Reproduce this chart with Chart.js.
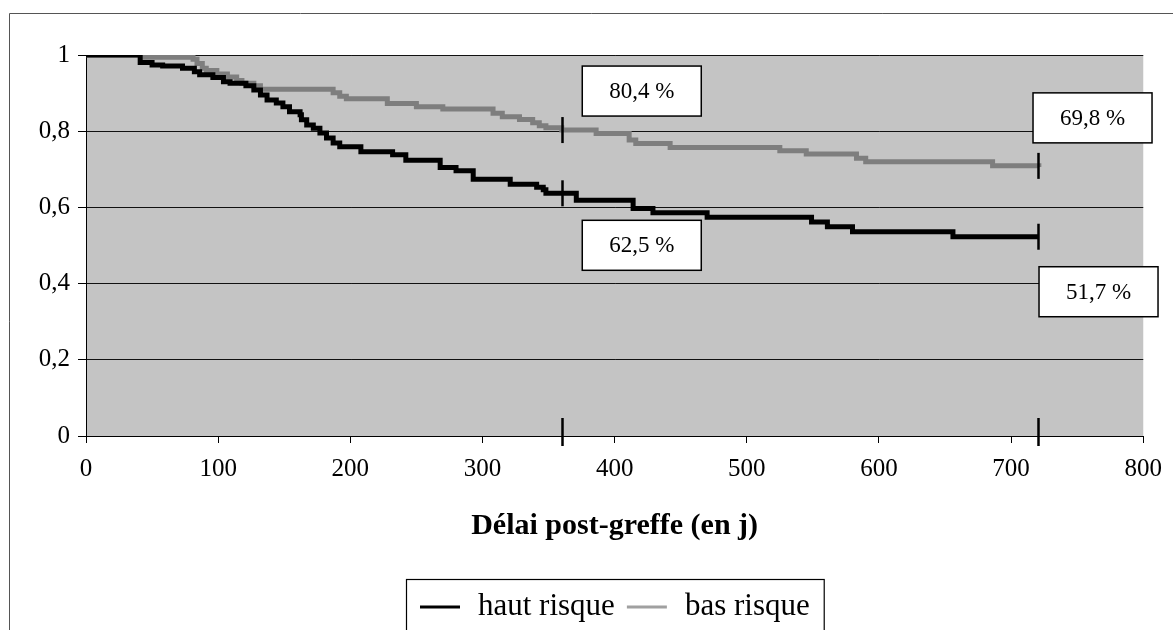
<!DOCTYPE html>
<html lang="fr">
<head>
<meta charset="utf-8">
<title>Survie post-greffe</title>
<script src="https://cdn.jsdelivr.net/npm/chart.js@4.4.1/dist/chart.umd.min.js"></script>
<style>
  html, body { margin: 0; padding: 0; background: #fff; }
  #wrap { width: 1173px; height: 630px; position: relative; }
</style>
</head>
<body>
<div id="wrap"><canvas id="chartSurvie"></canvas></div>
<script>
// Données (jours / survie)
const hautJours = [0, 41, 50, 58, 73, 82, 86, 96, 104, 109, 121, 127, 132, 137, 144, 149, 154, 162, 163, 167, 172, 177, 182, 187, 192, 208, 232, 242, 268, 280, 293, 321, 341, 346, 348, 371, 414, 429, 470, 549, 561, 580, 656, 721];
const hautSurvie = [1.0, 0.980, 0.974, 0.971, 0.965, 0.956, 0.948, 0.941, 0.930, 0.926, 0.919, 0.908, 0.895, 0.882, 0.874, 0.864, 0.851, 0.843, 0.830, 0.816, 0.808, 0.795, 0.782, 0.769, 0.759, 0.746, 0.738, 0.724, 0.705, 0.696, 0.674, 0.661, 0.653, 0.646, 0.637, 0.619, 0.597, 0.586, 0.574, 0.562, 0.549, 0.536, 0.523, 0.523];

const basJours = [0, 43, 81, 84, 88, 91, 99, 107, 114, 118, 127, 132, 187, 192, 197, 228, 250, 270, 308, 315, 328, 338, 343, 348, 360, 386, 411, 416, 442, 525, 545, 583, 590, 686, 721];
const basSurvie = [1.0, 0.994, 0.989, 0.978, 0.965, 0.959, 0.950, 0.942, 0.933, 0.926, 0.919, 0.910, 0.901, 0.892, 0.885, 0.873, 0.864, 0.858, 0.847, 0.838, 0.831, 0.822, 0.814, 0.809, 0.803, 0.794, 0.777, 0.768, 0.757, 0.749, 0.740, 0.729, 0.720, 0.709, 0.706];

const seriesNoms = ['haut risque', 'bas risque'];
const reperesJours = [360, 720];
const pctHaut = [62.5, 51.7];
const pctBas = [80.4, 69.8];

const xTicks = [0, 100, 200, 300, 400, 500, 600, 700, 800];
const yTicks = [0, 0.2, 0.4, 0.6, 0.8, 1];

(function() {
  'use strict';

  const FONT = "'Liberation Serif', 'Times New Roman', serif";
  const couleurs = ['#000000', '#7e7e7e'];
  const couleursLegende = ['#000000', '#a0a0a0'];

  // Décalage des étiquettes par rapport au repère (px)
  const etiquettes = [
    { serie: 1, repere: 0, dx: 80, dy: -39 },
    { serie: 0, repere: 0, dx: 80, dy: 52 },
    { serie: 1, repere: 1, dx: 55, dy: -48 },
    { serie: 0, repere: 1, dx: 61, dy: 55 }
  ];

  function points(jours, survie) {
    return jours.map((j, i) => ({ x: j, y: survie[i] }));
  }

  function valeurA(data, jour) {
    let v = data[0].y;
    data.forEach(p => { if (p.x <= jour) v = p.y; });
    return v;
  }

  function fmt(v) {
    return String(v).replace('.', ',');
  }

  const decor = {
    id: 'decor',
    beforeDraw(chart) {
      const { ctx, chartArea: a } = chart;
      ctx.save();
      ctx.fillStyle = '#c4c4c4';
      ctx.fillRect(a.left, a.top, a.right - a.left, a.bottom - a.top);
      ctx.restore();
    },
    afterDatasetsDraw(chart) {
      const { ctx } = chart;
      const xs = chart.scales.x, ys = chart.scales.y;
      ctx.save();
      ctx.strokeStyle = '#000';
      ctx.lineWidth = 2.5;
      // repères verticaux à 1 an et 2 ans
      reperesJours.forEach(j => {
        const px = Math.round(xs.getPixelForValue(j)) + 0.5;
        chart.data.datasets.forEach(ds => {
          const py = ys.getPixelForValue(valeurA(ds.data, j));
          ctx.beginPath();
          ctx.moveTo(px, py - 13);
          ctx.lineTo(px, py + 13);
          ctx.stroke();
        });
        const p0 = ys.getPixelForValue(0);
        ctx.beginPath();
        ctx.moveTo(px, p0 - 18);
        ctx.lineTo(px, p0 + 10);
        ctx.stroke();
      });

      // étiquettes de pourcentage
      etiquettes.forEach(e => {
        const ds = chart.data.datasets[e.serie];
        const j = reperesJours[e.repere];
        const pct = e.serie === 0 ? pctHaut[e.repere] : pctBas[e.repere];
        const cx = xs.getPixelForValue(j) + e.dx;
        const cy = ys.getPixelForValue(valeurA(ds.data, j)) + e.dy;
        const w = 119, h = 50;
        ctx.fillStyle = '#fff';
        ctx.fillRect(cx - w / 2, cy - h / 2, w, h);
        ctx.lineWidth = 1.5;
        ctx.strokeRect(cx - w / 2, cy - h / 2, w, h);
        ctx.fillStyle = '#000';
        ctx.font = '23px ' + FONT;
        ctx.textAlign = 'center';
        ctx.textBaseline = 'middle';
        ctx.fillText(fmt(pct) + ' %', cx, cy + 1);
      });
      ctx.restore();
    },
    afterDraw(chart) {
      const { ctx, chartArea: a } = chart;
      ctx.save();
      // cadre extérieur
      ctx.strokeStyle = '#555';
      ctx.lineWidth = 1;
      ctx.beginPath();
      ctx.moveTo(9.5, 630);
      ctx.lineTo(9.5, 13.5);
      ctx.lineTo(1173, 13.5);
      ctx.stroke();

      // légende encadrée
      ctx.font = '31px ' + FONT;
      ctx.textBaseline = 'middle';
      ctx.textAlign = 'left';
      const items = chart.data.datasets.map((ds, i) => ({ label: ds.label, color: couleursLegende[i], w: ctx.measureText(ds.label).width }));
      const ligne = 40, gapTxt = 18, gapItem = 12, pad = 14;
      let total = pad * 2;
      items.forEach((it, i) => { total += ligne + gapTxt + it.w + (i ? gapItem : 0); });
      const cxLeg = (a.left + a.right) / 2;
      let x = Math.round(cxLeg - total / 2);
      const top = 579, y = 607;
      ctx.strokeStyle = '#000';
      ctx.lineWidth = 1.2;
      ctx.strokeRect(x + 0.5, top + 0.5, total, 80);
      x += pad;
      items.forEach((it, i) => {
        if (i) x += gapItem;
        ctx.strokeStyle = it.color;
        ctx.lineWidth = 3;
        ctx.beginPath();
        ctx.moveTo(x, y);
        ctx.lineTo(x + ligne, y);
        ctx.stroke();
        x += ligne + gapTxt;
        ctx.fillStyle = '#000';
        ctx.fillText(it.label, x, y);
        x += it.w;
      });
      ctx.restore();
    }
  };

  function render() {
    const canvas = document.getElementById('chartSurvie');
    const series = [points(hautJours, hautSurvie), points(basJours, basSurvie)];

    new Chart(canvas.getContext('2d'), {
      type: 'line',
      data: {
        datasets: series.map((d, i) => ({
          label: seriesNoms[i],
          data: d,
          order: i, // haut risque dessiné par-dessus
          borderColor: couleurs[i],
          borderWidth: 5,
          stepped: true,
          pointRadius: 0,
          fill: false,
          borderJoinStyle: 'miter',
          borderCapStyle: 'butt'
        }))
      },
      options: {
        responsive: true,
        maintainAspectRatio: false,
        animation: false,
        layout: { padding: { top: 55, right: 28, left: 0, bottom: 0 } },
        plugins: { legend: { display: false }, tooltip: { enabled: false } },
        scales: {
          x: {
            type: 'linear',
            min: 0,
            max: 800,
            afterBuildTicks: s => { s.ticks = xTicks.map(v => ({ value: v })); },
            afterFit: s => { s.height = 194; },
            grid: { drawOnChartArea: false, drawTicks: true, tickLength: 7, color: '#000', tickColor: '#000' },
            border: { display: true, color: '#000', width: 1 },
            ticks: {
              color: '#000',
              padding: 11,
              maxRotation: 0,
              font: { family: FONT, size: 25 }
            },
            title: {
              display: true,
              text: 'Délai post-greffe (en j)',
              color: '#000',
              font: { family: FONT, size: 30, weight: 'bold' },
              padding: { top: 0, bottom: 86 }
            }
          },
          y: {
            type: 'linear',
            min: 0,
            max: 1,
            afterBuildTicks: s => { s.ticks = yTicks.map(v => ({ value: v })); },
            afterFit: s => { s.width = 86; },
            grid: { color: '#111', lineWidth: 1, tickLength: 8, tickColor: '#000' },
            border: { display: true, color: '#000', width: 1 },
            ticks: {
              color: '#000',
              padding: 8,
              font: { family: FONT, size: 25 },
              callback: v => fmt(Math.round(v * 10) / 10)
            }
          }
        }
      },
      plugins: [decor]
    });
  }

  render();
})();
</script>
</body>
</html>
